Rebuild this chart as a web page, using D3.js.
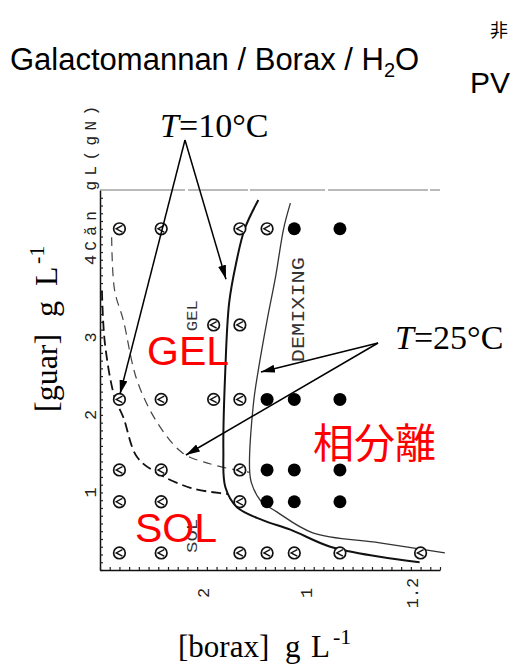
<!DOCTYPE html>
<html>
<head>
<meta charset="utf-8">
<script src="https://cdn.jsdelivr.net/npm/d3@7"></script>
<style>
  body { margin: 0; background: #fff; }
  svg { display: block; }
</style>
</head>
<body>
<svg id="chart" width="510" height="666"></svg>
<script>
// ---- Phase diagram of guar / borax / water ----
// Sampled compositions [borax, guar] : homogeneous (open) and demixed (filled)
const openSamples = [
  [0.2, 4.4], [0.63, 4.4], [1.44, 4.4], [1.72, 4.4],
  [1.17, 3.16], [1.44, 3.16],
  [0.2, 2.2], [0.63, 2.2], [1.17, 2.2], [1.44, 2.2],
  [0.2, 1.29], [0.63, 1.29], [1.44, 1.29],
  [0.2, 0.88], [0.63, 0.88], [1.44, 0.88],
  [0.2, 0.22], [0.63, 0.22], [1.44, 0.22], [1.72, 0.22], [2.0, 0.22], [2.47, 0.22], [3.3, 0.22]
];
const demixedSamples = [
  [2.0, 4.4], [2.47, 4.4],
  [1.72, 2.2], [2.0, 2.2], [2.47, 2.2],
  [1.72, 1.29], [2.0, 1.29], [2.47, 1.29],
  [1.72, 0.88], [2.0, 0.88], [2.47, 0.88]
];

// Sol-gel boundaries (dashed) at 10 and 25 degC
const solGel10 = [[0.02, 3.6], [0.05, 2.93], [0.15, 2.23], [0.24, 1.97], [0.38, 1.46],
                  [0.59, 1.25], [0.93, 1.06], [1.24, 0.99], [1.32, 0.98]];
const solGel25 = [[0.12, 4.29], [0.15, 3.61], [0.24, 3.22], [0.38, 2.45], [0.59, 1.9],
                  [0.85, 1.51], [1.13, 1.37], [1.44, 1.28], [1.54, 1.26]];
// Demixing boundaries (solid) at 10 and 25 degC
const demix10 = [[1.63, 4.77], [1.49, 4.4], [1.4, 3.95], [1.33, 3.45], [1.29, 2.58],
                 [1.27, 1.55], [1.29, 1.07], [1.41, 0.81], [1.68, 0.64], [1.96, 0.52],
                 [2.37, 0.3], [2.88, 0.17], [3.29, 0.1]];
const demix25 = [[1.96, 4.73], [1.89, 4.4], [1.81, 3.8], [1.72, 3.22], [1.63, 2.58],
                 [1.58, 2.15], [1.54, 1.29], [1.56, 1.12], [1.65, 0.9], [1.82, 0.75],
                 [2.19, 0.48], [2.88, 0.35], [3.55, 0.22]];

// Printed tick labels of the scanned axes
const xTickValues = [1.06, 2.12, 3.21];
const xTickLabels = ["2", "1", "1.2"];
const yTickValues = [1, 2, 3, 4];
const yTickLabels = ["1", "2", "3", "4"];

// ---- layout ----
const svg = d3.select("#chart");
const x = d3.scaleLinear().domain([0, 3.5]).range([100, 440]);
const y = d3.scaleLinear().domain([0, 4.9]).range([570, 190]);

const serif = "'Liberation Serif', 'Times New Roman', serif";
const sans = "'Liberation Sans', Arial, sans-serif";
const mono = "'Liberation Mono', 'Courier New', monospace";

// Title and the edge of the neighbouring panel
const title = svg.append("text").attr("x", 10).attr("y", 70)
  .attr("font-family", sans).attr("font-size", 31).attr("fill", "#000");
title.append("tspan").text("Galactomannan / Borax / H");
title.append("tspan").attr("font-size", 20).attr("dy", 7).text("2");
title.append("tspan").attr("dy", -7).text("O");
svg.append("text").attr("x", 490).attr("y", 37).attr("font-family", "'Noto Sans CJK JP', sans-serif")
  .attr("font-size", 18).text("非");
svg.append("text").attr("x", 470).attr("y", 93).attr("font-family", sans)
  .attr("font-size", 30).text("PV");

// ---- axes ----
const minorY = d3.range(0, 4.85, 0.1);
const minorX = d3.range(0, 3.55, 0.1);
const gy = svg.append("g").attr("transform", `translate(${x(0)},0)`)
  .call(d3.axisRight(y).tickValues(minorY).tickSize(3).tickFormat("").tickSizeOuter(0));
const gx = svg.append("g").attr("transform", `translate(0,${y(0)})`)
  .call(d3.axisTop(x).tickValues(minorX).tickSize(3).tickFormat("").tickSizeOuter(0));
[gy, gx].forEach(g => {
  g.select(".domain").attr("stroke", "#111").attr("stroke-width", 1.5);
  g.selectAll(".tick line").attr("stroke", "#222").attr("stroke-width", 1.2);
});
// faint, slightly broken top frame line
svg.append("line").attr("x1", x(0)).attr("x2", x(3.5)).attr("y1", y(4.9)).attr("y2", y(4.9))
  .attr("stroke", "#777").attr("stroke-width", 1.2).attr("stroke-dasharray", "85 3 60 2 75 3 100 2");

// rotated tick labels
svg.append("g").selectAll("text").data(yTickValues).join("text")
  .attr("transform", d => `translate(90,${y(d)}) rotate(-90)`)
  .attr("text-anchor", "middle").attr("dy", "0.35em")
  .attr("font-family", mono).attr("font-size", 17).attr("fill", "#222")
  .text((d, i) => yTickLabels[i]);
svg.append("text")
  .attr("transform", `translate(90,${y(4) - 9}) rotate(-90)`)
  .attr("dy", "0.35em").attr("font-family", mono).attr("font-size", 16).attr("fill", "#222")
  .attr("textLength", 145).attr("lengthAdjust", "spacing")
  .text("Căn gL(gN)");
svg.append("g").selectAll("text").data(xTickValues).join("text")
  .attr("transform", d => `translate(${x(d)},593) rotate(-90)`)
  .attr("text-anchor", "middle").attr("dy", "0.35em")
  .attr("font-family", mono).attr("font-size", 17).attr("fill", "#222")
  .text((d, i) => xTickLabels[i]);

// axis titles
const xt = svg.append("text").attr("y", 657).attr("font-family", serif).attr("font-size", 31);
xt.append("tspan").attr("x", 178).text("[borax]");
xt.append("tspan").attr("x", 285).text("g");
xt.append("tspan").attr("x", 311).text("L");
xt.append("tspan").attr("x", 333).attr("dy", -13).attr("font-size", 22).text("-1");

const yt = svg.append("text").attr("transform", "translate(57,412) rotate(-90)")
  .attr("font-family", serif).attr("font-size", 32);
yt.append("tspan").attr("x", 0).text("[guar]");
yt.append("tspan").attr("x", 95).text("g");
yt.append("tspan").attr("x", 126).text("L");
yt.append("tspan").attr("x", 148).attr("dy", -13).attr("font-size", 22).text("-1");

// ---- phase boundaries ----
const line = d3.line().x(d => x(d[0])).y(d => y(d[1])).curve(d3.curveCatmullRom.alpha(0.5));
svg.append("path").datum(solGel10).attr("d", line).attr("fill", "none")
  .attr("stroke", "#111").attr("stroke-width", 1.8).attr("stroke-dasharray", "10 5");
svg.append("path").datum(solGel25).attr("d", line).attr("fill", "none")
  .attr("stroke", "#444").attr("stroke-width", 1.2).attr("stroke-dasharray", "9 6");
svg.append("path").datum(demix10).attr("d", line).attr("fill", "none")
  .attr("stroke", "#111").attr("stroke-width", 2);
svg.append("path").datum(demix25).attr("d", line).attr("fill", "none")
  .attr("stroke", "#333").attr("stroke-width", 1.3);

// region captions printed in the figure
function vText(px, py, s, size, len) {
  const t = svg.append("text").attr("transform", `translate(${x(px)},${y(py)}) rotate(-90)`)
    .attr("font-family", mono).attr("font-size", size).attr("fill", "#333").text(s);
  if (len) t.attr("textLength", len).attr("lengthAdjust", "spacingAndGlyphs");
}
vText(1.0, 3.08, "GEL", 15, 31);
vText(2.1, 2.68, "DEMIXING", 18, 105);
vText(1.0, 0.22, "SOL", 15, 34);

// ---- samples ----
svg.append("g").selectAll("circle").data(demixedSamples).join("circle")
  .attr("cx", d => x(d[0])).attr("cy", d => y(d[1])).attr("r", 6.5).attr("fill", "#000");
const og = svg.append("g").selectAll("g").data(openSamples).join("g")
  .attr("transform", d => `translate(${x(d[0])},${y(d[1])})`);
og.append("circle").attr("r", 5.8).attr("fill", "#fff").attr("stroke", "#111").attr("stroke-width", 1.7);
og.append("path").attr("d", "M3,-3.3L-3.2,0L3,3.3").attr("fill", "none")
  .attr("stroke", "#111").attr("stroke-width", 1.4);

// ---- temperature annotations ----
svg.append("defs").append("marker").attr("id", "head")
  .attr("viewBox", "0 0 14 8").attr("refX", 14).attr("refY", 4)
  .attr("markerWidth", 14).attr("markerHeight", 8).attr("markerUnits", "userSpaceOnUse")
  .attr("orient", "auto")
  .append("path").attr("d", "M0,0L14,4L0,8Z").attr("fill", "#000");

const notes = [
  { temp: "10", label: [0.618, 5.58], apex: [0.875, 5.545], tips: [[0.206, 2.27], [1.297, 3.75]] },
  { temp: "25", label: [3.037, 2.85], apex: [2.862, 2.927], tips: [[1.657, 2.553], [0.885, 1.483]] }
];
notes.forEach(n => {
  n.tips.forEach(t => {
    svg.append("line").attr("x1", x(n.apex[0])).attr("y1", y(n.apex[1]))
      .attr("x2", x(t[0])).attr("y2", y(t[1]))
      .attr("stroke", "#000").attr("stroke-width", 1.5).attr("marker-end", "url(#head)");
  });
  const t = svg.append("text").attr("x", x(n.label[0])).attr("y", y(n.label[1]))
    .attr("font-family", serif).attr("font-size", 34);
  t.append("tspan").attr("font-style", "italic").text("T");
  t.append("tspan").text(`=${n.temp}°C`);
});

// ---- red region labels ----
const red = "#ff0000";
svg.append("text").attr("x", x(0.484)).attr("y", y(2.643)).attr("font-family", sans)
  .attr("font-size", 41).attr("fill", red).text("GEL");
svg.append("text").attr("x", x(0.36)).attr("y", y(0.361)).attr("font-family", sans)
  .attr("font-size", 41).attr("fill", red).text("SOL");
svg.append("text").attr("x", x(2.193)).attr("y", y(1.444))
  .attr("font-family", "'Noto Sans CJK JP', sans-serif")
  .attr("font-size", 41).attr("fill", red).text("相分離");
</script>
</body>
</html>
